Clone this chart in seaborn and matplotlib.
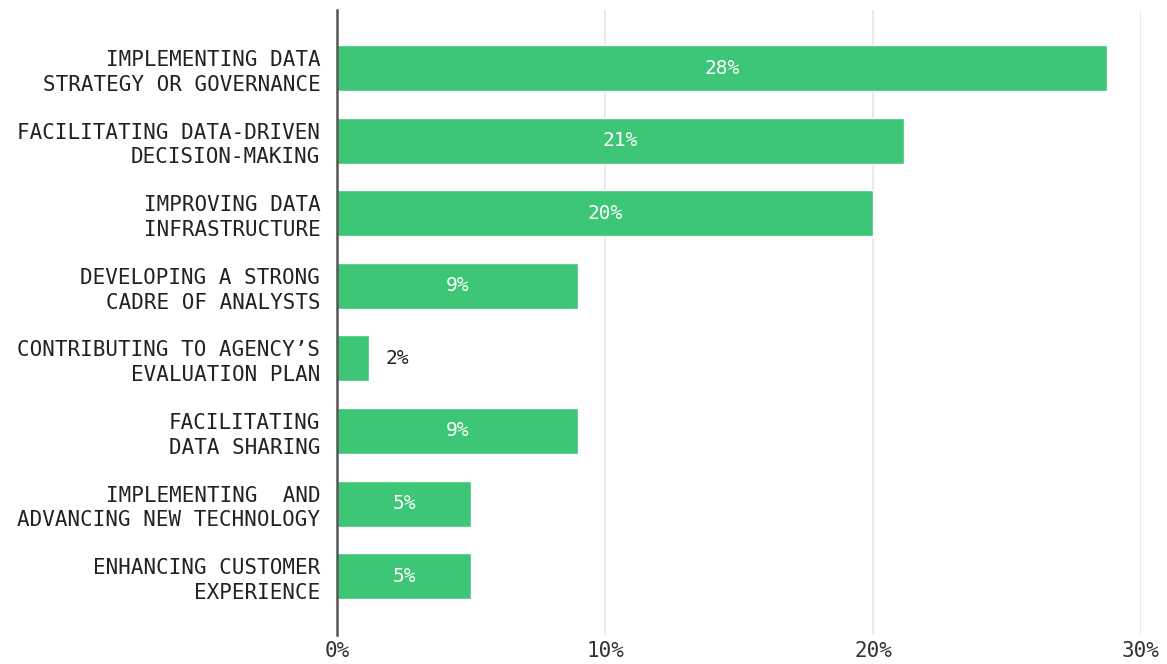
import matplotlib
matplotlib.use("Agg")
import matplotlib.pyplot as plt
import seaborn as sns
import pandas as pd

categories = [
    "IMPLEMENTING DATA\nSTRATEGY OR GOVERNANCE",
    "FACILITATING DATA-DRIVEN\nDECISION-MAKING",
    "IMPROVING DATA\nINFRASTRUCTURE",
    "DEVELOPING A STRONG\nCADRE OF ANALYSTS",
    "CONTRIBUTING TO AGENCY\u2019S\nEVALUATION PLAN",
    "FACILITATING\nDATA SHARING",
    "IMPLEMENTING  AND\nADVANCING NEW TECHNOLOGY",
    "ENHANCING CUSTOMER\nEXPERIENCE",
]
values = [28.75, 21.15, 20.0, 9.0, 1.2, 9.0, 5.0, 5.0]
value_labels = ["28%", "21%", "20%", "9%", "2%", "9%", "5%", "5%"]
x_ticks = [0, 10, 20, 30]

df = pd.DataFrame({"category": categories, "value": values})

sns.set_style("white")
plt.rcParams["font.family"] = ["DejaVu Sans Mono"]

fig = plt.figure(figsize=(11.67, 6.64), dpi=100)
ax = fig.add_axes([0.2888, 0.0437, 0.9777 - 0.2888, 0.985 - 0.0437])

green = "#3cc676"
sns.barplot(data=df, x="value", y="category", color=green, width=0.634,
            saturation=1, ax=ax, zorder=3)

ax.set_xlim(0, 30)
ax.set_ylim(7.81, -0.8)
ax.set_xticks(x_ticks)
ax.set_xticklabels([f"{t}%" for t in x_ticks], fontsize=15, color="#333333")
ax.tick_params(axis="x", length=0, pad=4)
ax.tick_params(axis="y", length=0, pad=12)
for lbl in ax.get_yticklabels():
    lbl.set_fontsize(15)
    lbl.set_color("#222222")
    lbl.set_linespacing(1.3)
ax.set_xlabel("")
ax.set_ylabel("")
ax.grid(axis="x", color="#e6e6e6", linewidth=1.2, zorder=0)

for s in ["top", "right", "bottom"]:
    ax.spines[s].set_visible(False)
ax.spines["left"].set_color("#555555")
ax.spines["left"].set_linewidth(1.8)
ax.spines["left"].set_zorder(5)

for i, (v, lab) in enumerate(zip(values, value_labels)):
    if v > 3:
        ax.text(v / 2, i, lab, ha="center", va="center", color="white",
                fontsize=14, zorder=6)
    else:
        ax.text(v + 0.6, i, lab, ha="left", va="center", color="#222222",
                fontsize=14, zorder=6)

fig.savefig("out.png", dpi=100)
